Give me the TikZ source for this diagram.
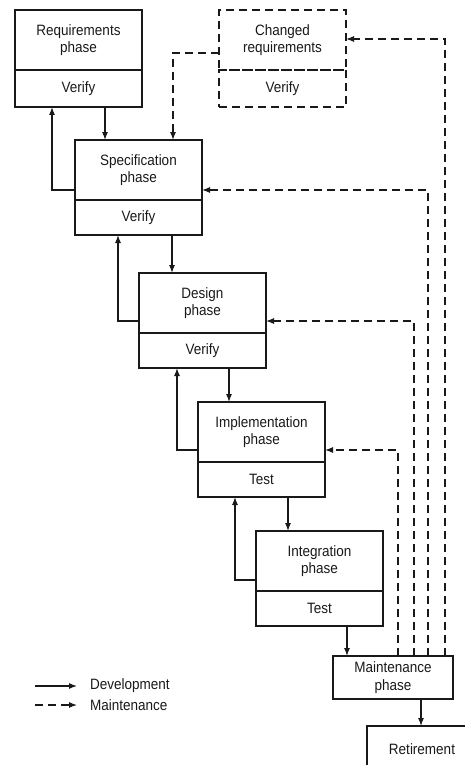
\documentclass[tikz,border=0pt]{standalone}
\usepackage{fontspec}
\setmainfont{Liberation Sans}[FakeStretch=0.9]
\usetikzlibrary{arrows.meta,positioning}

\tikzset{
	phase/.style={draw=black!90, line width=1.1pt, minimum width=127pt, minimum height=60pt,
		align=center, inner sep=2pt, outer sep=0pt, text=black!90,
		font=\fontsize{15}{17.5}\selectfont},
	check/.style={phase, minimum height=35pt},
	changed/.style={dash pattern=on 8pt off 5pt},
	dev/.style={draw=black!90, line width=1.1pt, -{Latex[length=8pt,width=6pt]}},
	mnt/.style={dev, dash pattern=on 8pt off 5pt},
	legend/.style={anchor=west, inner sep=0pt, text=black!90, font=\fontsize{15}{17.5}\selectfont}
}

\begin{document}
\begin{tikzpicture}[x=1pt, y=-1pt]
	\useasboundingbox (0,0) rectangle (465,765);

	% phases
	\node[phase, anchor=north west] (reqp) at (15,10) {Requirements\\phase};
	\node[check, minimum height=37pt, below=0pt of reqp] (reqv) {Verify};
	\node[phase, changed, anchor=north west] (chgp) at (219,10) {Changed\\requirements};
	\node[check, changed, minimum height=37pt, below=0pt of chgp] (chgv) {Verify};
	\node[phase, anchor=north west] (specp) at (75,140) {Specification\\phase};
	\node[check, below=0pt of specp] (specv) {Verify};
	\node[phase, anchor=north west] (desp) at (139,273) {Design\\phase};
	\node[check, below=0pt of desp] (desv) {Verify};
	\node[phase, anchor=north west] (impp) at (198,402) {Implementation\\phase};
	\node[check, below=0pt of impp] (impv) {Test};
	\node[phase, anchor=north west] (intp) at (256,531) {Integration\\phase};
	\node[check, below=0pt of intp] (intv) {Test};
	\node[phase, anchor=north west, minimum width=120pt, minimum height=43pt] (maint) at (333,656) {Maintenance\\phase};
	\node[phase, anchor=north west, minimum width=110pt, minimum height=46pt] (ret) at (367,726) {Retirement};

	% development, forward
	\coordinate (f1) at (105,0);
	\coordinate (f2) at (172,0);
	\coordinate (f3) at (229,0);
	\coordinate (f4) at (288,0);
	\coordinate (f5) at (347,0);
	\coordinate (f6) at (421,0);
	\draw[dev] (reqv.south -| f1) -- (specp.north -| f1);
	\draw[dev] (specv.south -| f2) -- (desp.north -| f2);
	\draw[dev] (desv.south -| f3) -- (impp.north -| f3);
	\draw[dev] (impv.south -| f4) -- (intp.north -| f4);
	\draw[dev] (intv.south -| f5) -- (maint.north -| f5);
	\draw[dev] (maint.south -| f6) -- (ret.north -| f6);

	% development, back
	\coordinate (b1) at (52,190);
	\coordinate (b2) at (118,321);
	\coordinate (b3) at (177,450);
	\coordinate (b4) at (235,580);
	\draw[dev] (specp.west |- b1) -- (b1) -- (b1 |- reqv.south);
	\draw[dev] (desp.west |- b2) -- (b2) -- (b2 |- specv.south);
	\draw[dev] (impp.west |- b3) -- (b3) -- (b3 |- desv.south);
	\draw[dev] (intp.west |- b4) -- (b4) -- (b4 |- impv.south);

	% maintenance
	\coordinate (m0) at (173,53);
	\coordinate (m1) at (445,39);
	\coordinate (m2) at (428,190);
	\coordinate (m3) at (414,321);
	\coordinate (m4) at (398,450);
	\draw[mnt] (chgp.west |- m0) -- (m0) -- (m0 |- specp.north);
	\draw[mnt] (maint.north -| m1) -- (m1) -- (m1 -| chgp.east);
	\draw[mnt] (maint.north -| m2) -- (m2) -- (m2 -| specp.east);
	\draw[mnt] (maint.north -| m3) -- (m3) -- (m3 -| desp.east);
	\draw[mnt] (maint.north -| m4) -- (m4) -- (m4 -| impp.east);

	% legend
	\node[legend] (devtxt) at (90,686) {Development};
	\node[legend] (mnttxt) at (90,705) {Maintenance};
	\coordinate (l1) at (35,686);
	\coordinate (l2) at (35,705);
	\draw[dev] (l1) -- ([xshift=-13pt]devtxt.west);
	\draw[mnt] (l2) -- ([xshift=-13pt]mnttxt.west);
\end{tikzpicture}
\end{document}
